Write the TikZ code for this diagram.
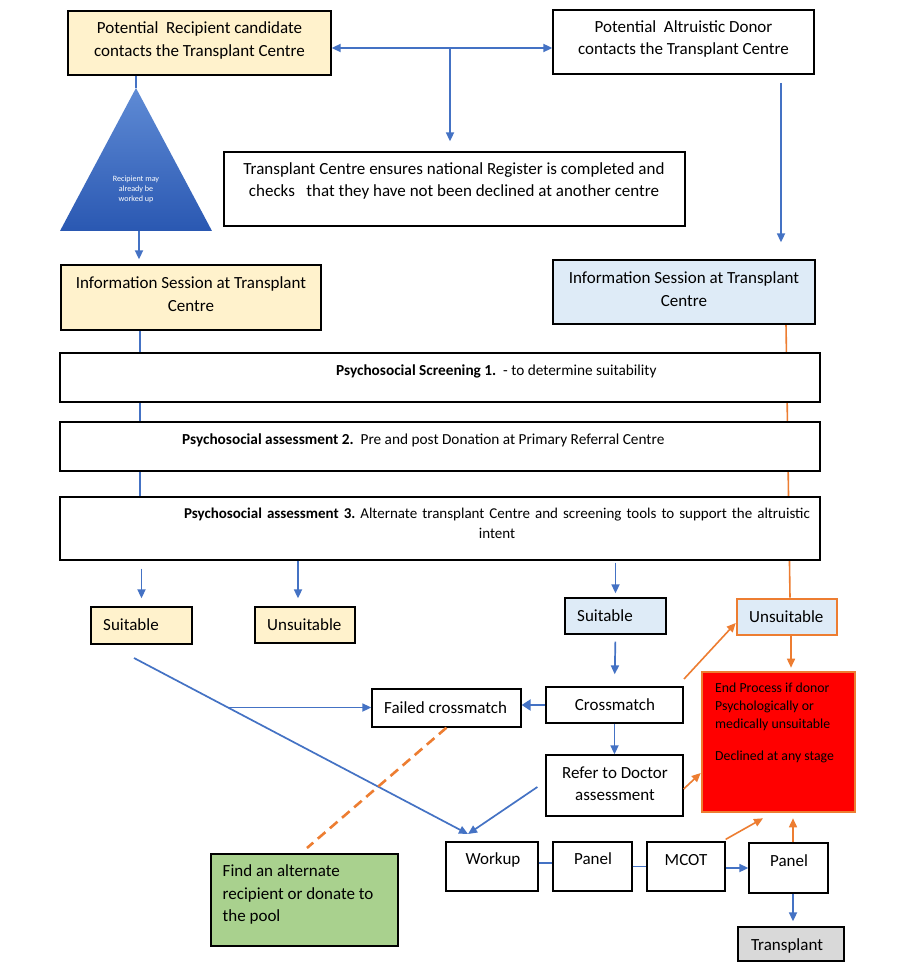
\documentclass[tikz,border=0pt]{standalone}
\usepackage{fontspec}
\setmainfont{Carlito}
\usetikzlibrary{arrows.meta,fit}
\pgfdeclarelayer{background}
\pgfsetlayers{background,main}
\definecolor{cream}{HTML}{FFF2CC}
\definecolor{paleblue}{HTML}{DEEBF7}
\definecolor{lineblue}{HTML}{4472C4}
\definecolor{orng}{HTML}{ED7D31}
\definecolor{poolgreen}{HTML}{A9D18E}
\definecolor{endred}{HTML}{FF0000}
\definecolor{greybox}{HTML}{D9D9D9}
\definecolor{trilight}{HTML}{5F8BD5}
\definecolor{tridark}{HTML}{2A58B2}
\frenchspacing

\begin{document}
\begin{tikzpicture}[x=1pt,y=-1pt,
box/.style	= {draw=black, line width=1.3pt, inner sep=0pt, fill=white},
warn/.style	= {box, draw=orng, line width=2.6pt},
txt/.style	= {inner sep=0pt, align=center, font=\fontsize{17}{22.5}\selectfont},
small/.style	= {inner sep=0pt, font=\fontsize{15.3}{19.5}\selectfont},
one/.style	= {text height=1.5ex, text depth=.25ex, yshift=-3.5pt},
link/.style	= {draw=lineblue, line width=1.7pt},
blarrow/.style	= {link, -{Triangle[length=9pt,width=8pt]}},
orline/.style	= {draw=orng, line width=1.6pt},
orarrow/.style	= {orline, -{Triangle[length=9pt,width=8pt]}},
ordash/.style	= {draw=orng, line width=2.6pt, dash pattern=on 10pt off 6pt}]
\useasboundingbox (0,0) rectangle (896,976);
\begin{pgfonlayer}{background}
\fill[white] (0,0) rectangle (896,976);
\end{pgfonlayer}

% top row
\node[box, fill=cream, fit={(68,11) (331,75)}] (rec) {};
\node[txt] (rec-t) at (199.5,40.5) {Potential\ \ Recipient candidate\\contacts the Transplant Centre};
\node[box, fit={(553,10) (814,74)}] (don) {};
\node[txt] (don-t) at (683.5,39) {Potential\ \ Altruistic Donor\\contacts the Transplant Centre};
\node[box, fit={(224,152) (685,226)}] (reg) {};
\node[txt] (reg-t) at (454,181) {Transplant Centre ensures national Register is completed and\\checks\ \ \ that they have not been declined at another centre};

% triangle
\coordinate (tri-top) at (136,88);
\coordinate (tri-l) at (60,231);
\coordinate (tri-r) at (212,231);
\coordinate (tri-base) at (139,231);
\shade[top color=trilight, bottom color=tridark] (tri-top) -- (tri-r) -- (tri-l) -- cycle;
\node[inner sep=0pt, align=center, text=white, font=\fontsize{8.1}{10}\selectfont] (tri-t) at (136,189.5) {Recipient may\\already be\\worked up};

% information sessions
\node[box, fill=cream, fit={(61,265) (321,330)}] (info-rec) {};
\node[txt] (info-rec-t) at (191,294) {Information Session at Transplant\\Centre};
\node[box, fill=paleblue, fit={(553,260) (815,324)}] (info-don) {};
\node[txt] (info-don-t) at (684,289) {Information Session at Transplant\\Centre};

% psychosocial steps
\node[box, fit={(60,353) (820,402)}] (ps1) {};
\node[small, one, anchor=west] (ps1-t) at (336,369) {\textbf{Psychosocial Screening 1.}\ \ - to determine suitability};
\node[box, fit={(60,422) (820,471)}] (ps2) {};
\node[small, one, anchor=west] (ps2-t) at (182,438) {\textbf{Psychosocial assessment 2.}\ \ Pre and post Donation at Primary Referral Centre};
\node[box, fit={(60,497) (820,560)}] (ps3) {};
\node[small, align=center, text width=650pt, font=\fontsize{15}{19.5}\selectfont] (ps3-t) at (497,523.5) {\textbf{Psychosocial assessment 3.} Alternate transplant Centre and screening tools to support the altruistic\\intent};

% outcomes
\node[box, fill=cream, fit={(91,607) (192,644)}] (suit-rec) {};
\node[txt, one, anchor=west] (suit-rec-t) at (103,624) {Suitable};
\node[box, fill=cream, fit={(255,607) (355,643)}] (unsuit-rec) {};
\node[txt, one, anchor=west] (unsuit-rec-t) at (267,624) {Unsuitable};
\node[box, fill=paleblue, fit={(565,598) (666,634)}] (suit-don) {};
\node[txt, one, anchor=west] (suit-don-t) at (577,615) {Suitable};
\node[warn, fill=paleblue, fit={(737,599) (837,635)}] (unsuit-don) {};
\node[txt, one, anchor=west] (unsuit-don-t) at (749,616) {Unsuitable};

% crossmatch and end
\node[box, fit={(546,687) (683,723)}] (cross) {};
\node[txt, one] (cross-t) at (615,704) {Crossmatch};
\node[box, fit={(372,689) (521,727)}] (fail) {};
\node[txt, one, anchor=west] (fail-t) at (384,707) {Failed crossmatch};
\node[box, fit={(546,755) (683,816)}] (refer) {};
\node[txt] (refer-t) at (615,783.5) {Refer to Doctor\\assessment};
\node[warn, fill=endred, fit={(702,672) (855,812)}] (endp) {};
\node[small, align=left, anchor=north west, font=\fontsize{13.8}{18}\selectfont] (endp-t) at (715,683) {End Process if donor\\Psychologically or\\medically unsuitable\\[14pt]Declined at any stage};
\node[box, fill=poolgreen, fit={(211,854) (398,946)}] (find) {};
\node[txt, align=left, anchor=north west] (find-t) at (222.5,864.5) {Find an alternate\\recipient or donate to\\the pool};

% bottom row
\node[box, fit={(446,842) (538,891)}] (work) {};
\node[txt, one] (work-t) at (493,858) {Workup};
\node[box, fit={(553,842) (632,891)}] (pan1) {};
\node[txt, one] (pan1-t) at (593,858) {Panel};
\node[box, fit={(647,842) (725,891)}] (mcot) {};
\node[txt, one] (mcot-t) at (686,859) {MCOT};
\node[box, fit={(749,843) (828,893)}] (pan2) {};
\node[txt, one] (pan2-t) at (789,860) {Panel};
\node[box, fill=greybox, fit={(738,927) (844,961)}] (trans) {};
\node[txt, one] (trans-t) at (787,944) {Transplant};

% free ends
\coordinate (split) at (450,48);
\coordinate (don-out) at (781,83);
\coordinate (rec-line) at (140,330);
\coordinate (or-top) at (786,324);
\coordinate (diag-a) at (134,658);
\coordinate (diag-cut) at (228,707.5);
\coordinate (work-in) at (468,834);
\coordinate (find-in) at (307,848);
\coordinate (or-a) at (684,679);

% connectors behind the boxes
\begin{pgfonlayer}{background}
\draw[link] (rec-line) -- (ps3.north -| rec-line);
\draw[orline] (or-top) -- ([xshift=3pt]unsuit-don.north);
\end{pgfonlayer}

\draw[blarrow, {Triangle[length=9pt,width=8pt]}-{Triangle[length=9pt,width=8pt]}] (rec.east |- split) -- (don.west |- split);
\draw[blarrow, shorten >=10pt] (split) -- (reg.north -| split);
\draw[link] (rec.south -| tri-top) -- (tri-top);
\draw[blarrow, shorten >=5pt] (tri-base) -- (info-rec.north -| tri-base);
\draw[blarrow, shorten >=17pt] (don-out) -- (info-don.north -| don-out);

\draw[blarrow, shorten <=8pt, shorten >=8pt] (ps3.south -| suit-rec.north) -- (suit-rec.north);
\draw[blarrow, shorten >=8pt] ([xshift=-7pt]ps3.south -| unsuit-rec.north) -- ([xshift=-7pt]unsuit-rec.north);
\draw[blarrow, shorten <=2pt, shorten >=4pt] (ps3.south -| suit-don.north) -- (suit-don.north);
\draw[blarrow, shorten <=7pt, shorten >=12pt] (suit-don.south) -- (cross.north);
\draw[blarrow, line width=2.8pt, -{Triangle[length=9pt,width=11pt]}] (cross.west) -- (fail.east |- cross.west);
\draw[blarrow] (cross.south) -- (refer.north);

\draw[blarrow] (diag-a) -- (work-in);
\draw[blarrow] (diag-cut) -- (fail.west |- diag-cut);
\draw[blarrow] ([xshift=-8pt,yshift=-1.5pt]refer.west) -- (work-in);
\draw[ordash] (fail.south) -- (find-in);

\draw[link] ([yshift=3.5pt]work.east) -- ([yshift=3.5pt]pan1.west);
\draw[link] (pan1.east) -- (mcot.west);
\draw[blarrow] (mcot.east |- pan2.west) -- (pan2.west);
\draw[blarrow, shorten >=5pt] ([xshift=4.5pt]pan2.south) -- ([xshift=4.5pt]pan2.south |- trans.north);

\draw[orarrow] (or-a) -- ([yshift=-6pt]unsuit-don.west);
\draw[orarrow, shorten >=3pt] ([xshift=4pt]unsuit-don.south) -- ([xshift=4pt]unsuit-don.south |- endp.north);
\draw[orarrow] ([yshift=-3.5pt]refer.east) -- ([yshift=-31pt]endp.west);
\draw[orarrow] ([yshift=2pt]mcot.north east) -- ([xshift=-15.5pt,yshift=-5pt]endp.south);
\draw[orarrow, shorten >=5pt] ([xshift=4.5pt]pan2.north) -- ([xshift=4.5pt]pan2.north |- endp.south);
\end{tikzpicture}
\end{document}
